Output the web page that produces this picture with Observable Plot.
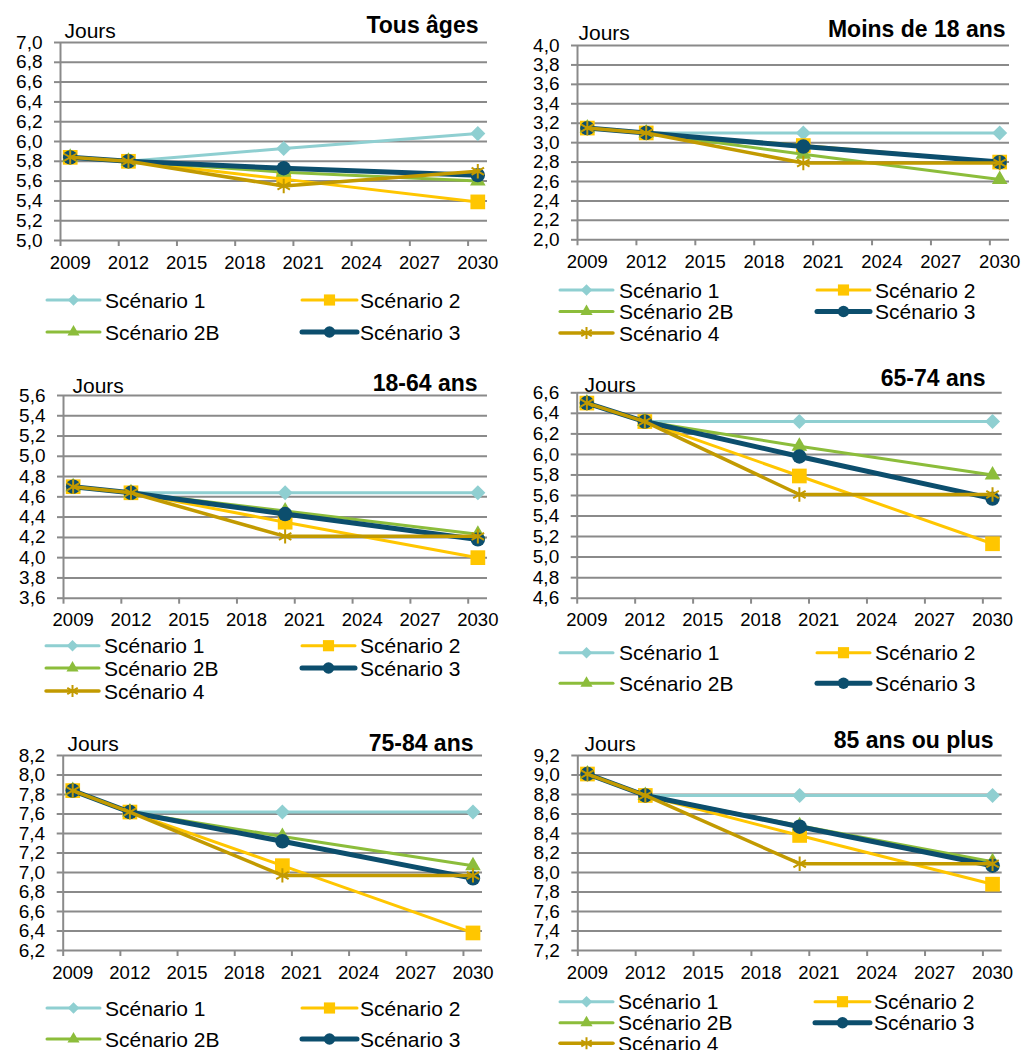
<!DOCTYPE html>
<html><head><meta charset="utf-8">
<script src="https://cdn.jsdelivr.net/npm/d3@7"></script>
<script src="https://cdn.jsdelivr.net/npm/@observablehq/plot@0.6"></script>
<style>
body{margin:0;background:#fff;font-family:"Liberation Sans",Arial,sans-serif;}
#page{position:relative;width:1021px;height:1050px;overflow:hidden;background:#fff;}
.panel{position:absolute;}
#overlay{position:absolute;left:0;top:0;}
</style></head><body><div id="page"></div>
<script>
// ---------- data ----------
const years = [2009, 2012, 2020, 2030];
const xTickLabels = [2009, 2012, 2015, 2018, 2021, 2024, 2027, 2030];
const scenarios = ["Scénario 1", "Scénario 2", "Scénario 2B", "Scénario 3", "Scénario 4"];
const titles = ["Tous âges", "Moins de 18 ans", "18-64 ans", "65-74 ans", "75-84 ans", "85 ans ou plus"];
const yUnit = "Jours";

// Tous âges
const tousS1  = [5.84, 5.80, 5.93, 6.08];
const tousS2  = [5.84, 5.80, 5.62, 5.39];
const tousS2B = [5.84, 5.80, 5.69, 5.60];
const tousS3  = [5.84, 5.80, 5.73, 5.66];
const tousS4  = [5.84, 5.80, 5.55, 5.70];
// Moins de 18 ans
const moinsS1  = [3.15, 3.10, 3.10, 3.10];
const moinsS2  = [3.15, 3.10, 2.97, 2.80];
const moinsS2B = [3.15, 3.10, 2.88, 2.62];
const moinsS3  = [3.15, 3.10, 2.96, 2.80];
const moinsS4  = [3.15, 3.10, 2.79, 2.79];
// 18-64 ans
const adS1  = [4.70, 4.64, 4.64, 4.64];
const adS2  = [4.70, 4.64, 4.35, 4.00];
const adS2B = [4.70, 4.64, 4.46, 4.23];
const adS3  = [4.70, 4.64, 4.43, 4.18];
const adS4  = [4.70, 4.64, 4.21, 4.21];
// 65-74 ans
const a65S1  = [6.50, 6.32, 6.32, 6.32];
const a65S2  = [6.50, 6.32, 5.79, 5.13];
const a65S2B = [6.50, 6.32, 6.08, 5.80];
const a65S3  = [6.50, 6.32, 5.98, 5.57];
const a65S4  = [6.50, 6.32, 5.61, 5.61];
// 75-84 ans
const a75S1  = [7.84, 7.62, 7.62, 7.62];
const a75S2  = [7.84, 7.62, 7.07, 6.38];
const a75S2B = [7.84, 7.62, 7.37, 7.07];
const a75S3  = [7.84, 7.62, 7.32, 6.94];
const a75S4  = [7.84, 7.62, 6.97, 6.97];
// 85 ans ou plus
const a85S1  = [9.01, 8.79, 8.79, 8.79];
const a85S2  = [9.01, 8.79, 8.38, 7.88];
const a85S2B = [9.01, 8.79, 8.48, 8.11];
const a85S3  = [9.01, 8.79, 8.47, 8.07];
const a85S4  = [9.01, 8.79, 8.09, 8.09];

const yDomains = [[5.0, 7.0], [2.0, 4.0], [3.6, 5.6], [4.6, 6.6], [6.2, 8.2], [7.2, 9.2]];

// ---------- style ----------
const colors  = ["#8FCFD1", "#FFC600", "#8CBD3B", "#0C4E6D", "#C29A00"];
const symbols = ["diamond2", "square", "triangle", "circle", "asterisk"];
const d3sym   = [d3.symbolDiamond2, d3.symbolSquare, d3.symbolTriangle, d3.symbolCircle, d3.symbolAsterisk];
const widths  = [3, 3, 3, 5, 3.5];
const radii   = [6.8, 8.3, 5.8, 7.2, 6.8];
const legR    = [5.2, 6.3, 4.5, 5.7, 5.7];
const grid = "#8A8A8A";
const FONT = "'Liberation Sans', Arial, sans-serif";

const panels = [
  {series:[tousS1,tousS2,tousS2B,tousS3,tousS4], x0:0, y0:0, fl:60, fr:487, ft:42, fb:240,
   tdx:-9, tdy:-16.4, jdx:4, jdy:-11.7,
   leg:{rows:[300,332], c1:[47,100,105], c2:[302,357,360], n:4}},
  {series:[moinsS1,moinsS2,moinsS2B,moinsS3,moinsS4], x0:510, y0:0, fl:67, fr:499, ft:45, fb:239.3,
   tdx:-4, tdy:-15.4, jdx:1, jdy:-12.7,
   leg:{rows:[290,311.5,333], c1:[560,613,619], c2:[817,870,875], n:5}},
  {series:[adS1,adS2,adS2B,adS3,adS4], x0:0, y0:360, fl:63, fr:487, ft:35, fb:237.7,
   tdx:-10, tdy:-11.4, jdx:9, jdy:-9.7,
   leg:{rows:[645.7,668,691], c1:[46,99,104], c2:[302,355,360], n:5}},
  {series:[a65S1,a65S2,a65S2B,a65S3,a65S4], x0:510, y0:360, fl:66.7, fr:491.7, ft:32.3, fb:237.7,
   tdx:-16.7, tdy:-13.7, jdx:7.3, jdy:-8,
   leg:{rows:[652.7,683.3], c1:[560,613,619], c2:[817,870,875], n:4}},
  {series:[a75S1,a75S2,a75S2B,a75S3,a75S4], x0:0, y0:720, fl:62.7, fr:482, ft:35, fb:230,
   tdx:-9, tdy:-11.4, jdx:4.3, jdy:-11.7,
   leg:{rows:[1008,1039], c1:[47,100,105], c2:[302,357,360], n:4}},
  {series:[a85S1,a85S2,a85S2B,a85S3,a85S4], x0:510, y0:720, fl:67.3, fr:491.7, ft:35, fb:230,
   tdx:-8.7, tdy:-14.4, jdx:6.7, jdy:-11.7,
   leg:{rows:[1001.7,1022.7,1043.3], c1:[560,613,618], c2:[815,870,874], n:5}}
];

const page = document.getElementById("page");
const fmt = d => d.toFixed(1).replace(".", ",");

panels.forEach((p, pi) => {
  const W = 510, H = p.fb + 40;
  const domain = yDomains[pi];
  const yTicks = d3.range(0, 11).map(k => +(domain[0] + k * 0.2).toFixed(1));
  const marks = [
    Plot.ruleY(yTicks, {y: d => d, stroke: grid, strokeWidth: 2}),
    Plot.ruleX([2008.5], {x: d => d, stroke: grid, strokeWidth: 2}),
    Plot.axisY({ticks: yTicks, tickSize: 6, tickPadding: 12, tickFormat: fmt, fontSize: 19,
                stroke: grid, strokeWidth: 2, color: "#000", label: null}),
    Plot.axisX({ticks: d3.range(2008.5, 2030, 3), tickSize: 6, tickFormat: () => "",
                stroke: grid, strokeWidth: 2, label: null}),
    Plot.axisX({ticks: xTickLabels, tickSize: 0, tickPadding: 15, fontSize: 18.5,
                tickFormat: d => String(d), color: "#000", label: null})
  ];
  p.series.forEach((vals, i) => {
    const rows = years.map((yr, j) => ({year: yr, v: vals[j], s: scenarios[i]}));
    marks.push(Plot.line(rows, {x: "year", y: "v", stroke: colors[i], strokeWidth: widths[i],
                                strokeLinejoin: "round", strokeLinecap: "round"}));
    if (symbols[i] === "asterisk") {
      marks.push(Plot.dot(rows, {x: "year", y: "v", symbol: "asterisk", r: radii[i],
                                 fill: "none", stroke: colors[i], strokeWidth: 2}));
    } else {
      marks.push(Plot.dot(rows, {x: "year", y: "v", symbol: symbols[i], r: radii[i],
                                 fill: colors[i], stroke: "none"}));
    }
  });
  marks.push(Plot.text([yUnit], {frameAnchor: "top-left", textAnchor: "start", lineAnchor: "middle",
                                 dx: p.jdx, dy: p.jdy, fontSize: 21, fill: "#000"}));
  marks.push(Plot.text([titles[pi]], {frameAnchor: "top-right", textAnchor: "end", lineAnchor: "middle",
                                      dx: p.tdx, dy: p.tdy, fontSize: 23, fontWeight: "bold", fill: "#000"}));
  const chart = Plot.plot({
    width: W, height: H,
    marginLeft: p.fl, marginRight: W - p.fr, marginTop: p.ft, marginBottom: H - p.fb,
    x: {domain: [2008.5, 2030.5]},
    y: {domain},
    style: {fontFamily: FONT, color: "#000", background: "transparent", overflow: "visible"},
    marks
  });
  const div = document.createElement("div");
  div.className = "panel";
  div.style.left = p.x0 + "px";
  div.style.top = p.y0 + "px";
  div.appendChild(chart);
  page.appendChild(div);
});

// ---------- legends ----------
const svg = d3.select(page).append("svg").attr("id", "overlay")
  .attr("width", 1021).attr("height", 1050).style("font-family", FONT);
panels.forEach(p => {
  const L = p.leg;
  for (let i = 0; i < L.n; i++) {
    const row = Math.floor(i / 2), col = i % 2;
    const c = col === 0 ? L.c1 : L.c2;
    const y = L.rows[row];
    const g = svg.append("g");
    g.append("line").attr("x1", c[0]).attr("x2", c[1]).attr("y1", y).attr("y2", y)
      .attr("stroke", colors[i]).attr("stroke-width", widths[i]).attr("stroke-linecap", "round");
    const cx = (c[0] + c[1]) / 2;
    const path = d3.symbol(d3sym[i], Math.PI * legR[i] * legR[i])();
    const m = g.append("path").attr("d", path).attr("transform", `translate(${cx},${y})`);
    if (i === 4) m.attr("fill", "none").attr("stroke", colors[i]).attr("stroke-width", 2);
    else m.attr("fill", colors[i]);
    g.append("text").attr("x", c[2]).attr("y", y).attr("dy", "0.36em")
      .attr("font-size", 21).attr("fill", "#000").text(scenarios[i]);
  }
});
</script>
</body></html>
